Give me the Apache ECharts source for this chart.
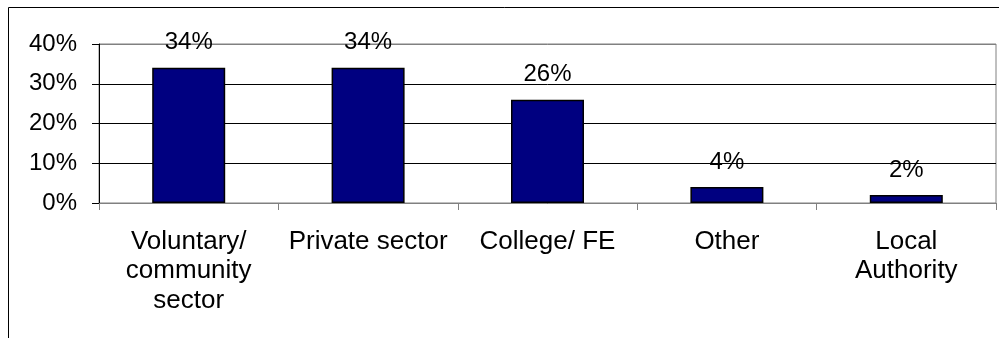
<!DOCTYPE html>
<html>
<head>
<meta charset="utf-8">
<script src="https://cdn.jsdelivr.net/npm/echarts@6/dist/echarts.min.js"></script>
<style>
  html, body { margin: 0; padding: 0; background: #ffffff; }
  #chart { width: 999px; height: 338px; }
</style>
</head>
<body>
<div id="chart"></div>
<script>
// Share of provision by sector (percent)
const categories = ['Voluntary/\ncommunity\nsector', 'Private sector', 'College/ FE', 'Other', 'Local\nAuthority'];
const shares = [34, 34, 26, 4, 2];
const yTicks = [0, 10, 20, 30, 40];

const FONT = '"Liberation Sans", Arial, sans-serif';

const chart = echarts.init(document.getElementById('chart'), null, { renderer: 'canvas' });

chart.setOption({
  animation: false,
  backgroundColor: '#ffffff',
  graphic: [{
    type: 'rect',
    z: -10,
    silent: true,
    shape: { x: 8.5, y: 7.5, width: 1100, height: 500 },
    style: { fill: 'none', stroke: '#000000', lineWidth: 1 }
  }],
  grid: {
    left: 99, right: 3, top: 44, bottom: 135,
    show: true,
    borderColor: '#808080',
    borderWidth: 1,
    backgroundColor: 'transparent'
  },
  xAxis: {
    type: 'category',
    data: categories,
    axisLine: { lineStyle: { color: '#808080', width: 1 } },
    axisTick: { show: true, length: 7, lineStyle: { color: '#808080' } },
    axisLabel: {
      color: '#000000',
      fontFamily: FONT,
      fontSize: 26,
      lineHeight: 29.5,
      margin: 24,
      interval: 0
    }
  },
  yAxis: {
    type: 'value',
    min: yTicks[0],
    max: yTicks[yTicks.length - 1],
    interval: 10,
    axisLine: { show: true, lineStyle: { color: '#000000', width: 1 } },
    axisTick: { show: true, length: 7, lineStyle: { color: '#000000' } },
    splitLine: { show: true, lineStyle: { color: ['#000000', '#000000', '#000000', '#000000', '#808080'], width: 1 } },
    axisLabel: {
      color: '#000000',
      fontFamily: FONT,
      fontSize: 24,
      margin: 22,
      formatter: v => v + '%'
    }
  },
  series: [{
    type: 'bar',
    data: shares,
    barWidth: 73,
    itemStyle: { color: '#000080', borderColor: '#000000', borderWidth: 1.5 },
    label: {
      show: true,
      position: 'top',
      distance: 13,
      color: '#000000',
      fontFamily: FONT,
      fontSize: 24,
      formatter: p => p.value + '%'
    }
  }]
});
</script>
</body>
</html>
